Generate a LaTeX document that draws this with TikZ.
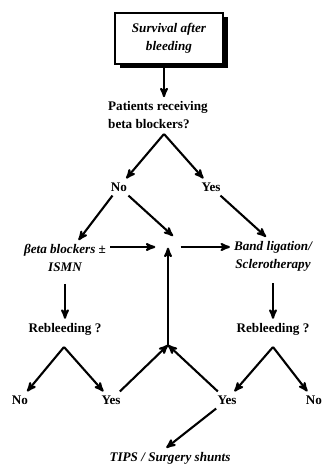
\documentclass[tikz,border=0pt]{standalone}
\usepackage{fontspec}
\setmainfont{Liberation Serif}
\usetikzlibrary{arrows}
\usetikzlibrary{shadows}
\tikzset{line/.style={black,>=stealth',line width=2.1bp}}
\tikzset{lbl/.style={font=\bfseries\fontsize{13.2}{18}\selectfont,inner sep=4bp}}
\tikzset{ilbl/.style={lbl,font=\bfseries\itshape\fontsize{13.2}{18}\selectfont,align=center}}
\tikzset{titlebox/.style={ilbl,draw,fill=white,line width=1.2bp,minimum width=108bp,minimum height=51bp,drop shadow={shadow xshift=5bp,shadow yshift=-4bp,opacity=1,fill=black}}}

\begin{document}
\begin{tikzpicture}[x=1bp,y=-1bp]
  \useasboundingbox (0,0) rectangle (325,467);

  % Nodes
  \node[titlebox] (surv) at (169,38.5) {Survival after\\bleeding};
  \node[lbl,align=left,anchor=west] (quest) at (104,115) {Patients receiving\\beta blockers?};
  \node[lbl] (no1) at (119,187) {No};
  \node[lbl] (yes1) at (211,187) {Yes};
  \node[ilbl] (beta) at (65,258) {βeta blockers ±\\ISMN};
  \node[ilbl] (band) at (273,256) {Band ligation/\\Sclerotherapy};
  \node[inner sep=0pt,minimum width=25bp] (hub) at (168,247) {};
  \node[lbl] (reb1) at (65,329) {Rebleeding ?};
  \node[lbl] (reb2) at (273,329) {Rebleeding ?};
  \node[lbl] (no2) at (20,400) {No};
  \node[lbl] (yes2) at (111,400) {Yes};
  \node[lbl] (yes3) at (227,400) {Yes};
  \node[lbl] (no3) at (314,400) {No};
  \node[ilbl] (tips) at (170,458) {TIPS / Surgery shunts};

  % Branch points
  \coordinate (apex1) at (164,134);
  \coordinate (apex2) at (64,347);
  \coordinate (apex3) at (273,347);
  \coordinate (join) at (168,345);
  \coordinate (hubtop) at (173,236);

  % Arrows
  \draw[line,->] (surv.south -| apex1) -- (quest.north -| apex1);
  \foreach \a/\b in {apex1/no1,apex1/yes1,no1/beta,no1/hubtop,yes1/band.110,
                     apex2/no2,apex2/yes2,apex3/yes3,apex3/no3,
                     yes2/join,yes3/join,join/hub,yes3/tips.110}
    \draw[line,->] (\a) -- (\b);
  \draw[line,->] (beta.east |- hub) -- (hub.west);
  \draw[line,->] (hub.east) -- (band.west |- hub);
  \draw[line,->,shorten <=8bp] (beta) -- (reb1);
  \draw[line,->,shorten <=8bp] (band) -- (reb2);
\end{tikzpicture}
\end{document}
